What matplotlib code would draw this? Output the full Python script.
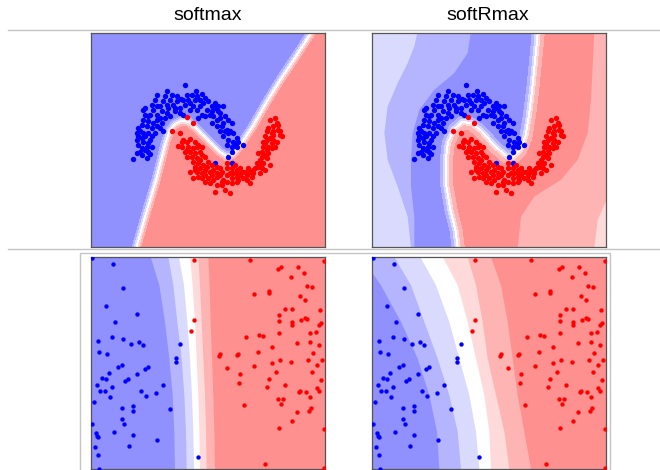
import numpy as np
import matplotlib.pyplot as plt
from matplotlib.path import Path
from matplotlib.lines import Line2D
from matplotlib.patches import Rectangle

plt.rcParams['font.family'] = ['Liberation Sans', 'DejaVu Sans']

# all coordinates (x to the right, y downwards)

# --- two moons (top row, same points in both panels)
moon_blue_x = [315,260,230,348,365,302,325,290,280,270, 250,240,215,195,210,220,245,260,240,255,
               230,270,300,315,330,340,350,360,370,385, 395,405,415,430,380,365,355,375,390,400,
               410,420,395,410,430,440,455,450,420,430, 445,460,440,455,465,470,490,445,455,405,
               188,195,205,185,200,180,215,230,240,250, 170,175,185,195,210,190,205,215,175,185,
               195,205,180,210,160,200,170,225,205,300, 285,310,
               225,255,275,290,335,320,375,345,310,285, 265,230,205,220,190,175,190,200,185,170,
               230,360,395,420,435,445,425,460,470,445, 435,455,475,405,415,350,330,260,245,215]
moon_blue_y = [257,273,287,275,283,297,300,305,315,300, 305,320,315,325,345,330,335,340,355,355,
               360,350,325,315,310,320,330,300,310,305, 320,325,320,318,330,345,355,350,345,350,
               360,355,370,380,370,390,370,395,395,410, 420,425,435,440,435,440,435,470,490,488,
               330,345,350,375,380,395,385,380,385,395, 400,410,415,410,420,425,430,440,435,445,
               450,455,455,462,477,475,460,400,400,340, 335,345,
               300,290,285,290,285,285,295,300,300,325, 325,345,365,370,360,385,400,440,465,420,
               320,320,335,340,350,360,380,400,415,400, 395,455,425,310,335,290,330,315,370,410]
moon_red_x = [320,340,275,300,310,320,330,345,355,365, 295,305,325,330,345,320,335,350,360,340,
              355,370,345,360,380,350,330,365,375,390, 400,410,420,385,400,410,430,440,455,470,
              480,475,490,500,515,510,525,530,540,545, 535,545,550,555,560,555,570,575,560,565,
              580,585,590,570,595,600,605,590,585,575, 565,560,550,570,555,540,520,510,495,480,
              470,460,450,440,425,405,435,450,440,465, 420,390,375,365,340,
              305,320,340,360,350,375,365,385,395,375, 410,425,440,455,470,485,500,520,535,545,
              560,575,580,595,580,565,555,540,505,455, 470,425,410,395,315,345,355,580,600,550]
moon_red_y = [352,370,395,400,420,425,418,425,435,440, 437,440,440,455,460,470,470,475,480,485,
              490,495,500,505,500,515,517,520,525,515, 510,520,525,535,540,530,540,545,535,530,
              525,540,535,540,530,515,505,490,480,470, 460,455,440,430,420,410,415,400,395,385,
              380,355,370,360,390,405,410,425,440,445, 460,475,490,495,510,520,520,550,515,505,
              510,520,520,525,555,575,570,580,490,495, 505,550,545,535,535,
              425,450,445,455,440,470,465,485,495,510, 500,515,505,505,520,515,525,510,500,505,
              450,430,420,375,395,440,465,490,505,550, 545,545,555,525,455,510,530,405,395,425]

# --- two blobs (bottom row, same points in both panels)
blob_blue_x = [37,98,128,77,171,104,97,129,55,153, 177,190,300,57,80,289,287,125,115,205,
               195,87,171,67,77,143,136,51,95,250, 59,75,183,228,89,197,42,125,160,159,
               270,127,133,37,103,49,52,160,54,232, 44,147,55,355,57]
blob_blue_y = [38,56,129,183,206,231,276,280,288,295, 290,298,297,320,327,337,349,361,366,365,
               372,385,388,399,402,401,408,421,426,421, 437,439,437,443,456,452,470,488,484,498,
               491,521,537,538,561,564,572,570,576,584, 606,604,631,636,672]
blob_red_x = [342,509,733,604,653,593,632,672,680,697, 568,566,521,660,676,614,635,719,597,343,
              596,636,636,662,676,680,722,716,332,537, 549,499,596,690,709,650,689,716,576,420,
              416,474,472,535,698,601,632,683,726,576, 521,712,442,587,697,480,566,478,724,614,
              560,710,660,656,717,679,689,593,609,603, 491,692,688,651,637,598,733,556,731]
blob_red_y = [44,43,46,66,66,72,96,82,122,125, 136,142,146,151,163,190,190,194,210,225,
              228,230,238,225,219,222,233,240,258,268, 272,274,264,262,261,292,291,299,305,327,
              331,325,328,319,323,343,350,344,344,354, 362,361,370,380,381,388,402,414,405,419,
              425,428,437,442,438,442,455,463,461,477, 481,490,497,501,528,548,552,656,670]

# --- decision boundaries (p = 0.5), drawn bottom -> top
softmax_moon_edge_x = [170,200,230,258,270,285,305,325,345,380,415,440,460,480,520,560,600,650,695,700]
softmax_moon_edge_y = [745,640,540,430,395,375,365,368,385,420,455,472,465,440,380,310,245,170,100,90]
softrmax_moon_edge_x = [292,285,270,258,255,262,280,305,330,360,400,435,460,480,495,505,515,522,528,532]
softrmax_moon_edge_y = [745,690,630,560,490,430,390,368,372,395,440,470,472,450,410,350,270,200,140,95]

# softRmax, moons: outer level lines (bottom -> top)
softrmax_moon_levels = [
    ([150,140,110,80,70,80,110,140,160,170], [745,650,560,480,400,320,250,190,140,95]),
    ([160,160,150,150,155,175,220,280,320,330], [745,650,560,480,400,330,270,220,160,95]),
    ([470,480,520,600,650,680,690,695,700], [745,650,590,540,480,400,300,200,95]),
    ([700,710,737,800,800], [745,660,600,560,95]),
]

# bottom row: level lines as x at fixed heights
blob_level_y = [700, 672, 560, 450, 340, 230, 120, 35, 0]
softmax_blob_levels = [
    [285, 285, 283, 278, 268, 255, 238, 212, 205],
    [320, 320, 318, 313, 305, 292, 280, 265, 260],
    [342, 342, 340, 336, 330, 322, 312, 297, 292],
    [360, 360, 358, 355, 350, 345, 338, 330, 328],
    [380, 380, 378, 375, 370, 365, 360, 355, 353],
    [405, 405, 403, 400, 396, 392, 389, 385, 384],
]
softrmax_blob_levels = [
    [235, 235, 228, 205, 170, 120, 60, 0, -20],
    [300, 300, 290, 265, 230, 190, 150, 100, 85],
    [355, 355, 345, 325, 295, 265, 225, 178, 165],
    [390, 390, 385, 370, 345, 320, 290, 245, 235],
    [445, 445, 430, 405, 380, 365, 345, 320, 312],
    [510, 510, 490, 470, 455, 440, 420, 390, 380],
]

band_colors = ['#9090ff', '#b4b4ff', '#dadaff', '#ffffff', '#ffdada', '#ffb4b4', '#ff9090']
FAR = 5000


def red_side(cx, cy):
    return np.r_[cx, FAR, FAR], np.r_[cy, cy[-1], cy[0]]


def signed_distance(cx, cy, gx, gy):
    cx = np.asarray(cx, float)
    cy = np.asarray(cy, float)
    pts = np.c_[gx.ravel(), gy.ravel()]
    d = np.full(len(pts), np.inf)
    for x0, y0, x1, y1 in zip(cx[:-1], cy[:-1], cx[1:], cy[1:]):
        vx, vy = x1 - x0, y1 - y0
        t = np.clip(((pts[:, 0] - x0) * vx + (pts[:, 1] - y0) * vy) / (vx * vx + vy * vy), 0, 1)
        d = np.minimum(d, np.hypot(pts[:, 0] - x0 - t * vx, pts[:, 1] - y0 - t * vy))
    px, py = red_side(cx, cy)
    inside = Path(np.c_[px, py]).contains_points(pts)
    return np.where(inside, d, -d).reshape(gx.shape)


def style(ax, xlim, ylim):
    ax.set_xlim(*xlim)
    ax.set_ylim(*ylim)
    ax.set_xticks([])
    ax.set_yticks([])
    for s in ax.spines.values():
        s.set_color('#555555')
        s.set_linewidth(0.9)


fig = plt.figure(figsize=(6.6, 4.7), dpi=100)

# table rules
fig.add_artist(Line2D([8 / 660, 1], [1 - 30 / 470] * 2, color='#c4c4c4', lw=1))
fig.add_artist(Line2D([8 / 660, 1], [1 - 249 / 470] * 2, color='#c4c4c4', lw=1))
fig.add_artist(Rectangle((80 / 660, -0.01), 530 / 660, 1 - 253 / 470 + 0.01,
                         fill=False, ec='#c4c4c4', lw=1))

fig.text(208 / 660, 1 - 15 / 470, 'softmax', ha='center', va='center', fontsize=14)
fig.text(488 / 660, 1 - 15 / 470, 'softRmax', ha='center', va='center', fontsize=14)

ax_tl = fig.add_axes([91 / 660, 1 - 247 / 470, 234 / 660, 214 / 470])
ax_tr = fig.add_axes([372 / 660, 1 - 247 / 470, 234 / 660, 214 / 470])
ax_bl = fig.add_axes([91 / 660, 1 - 469 / 470, 234 / 660, 212 / 470])
ax_br = fig.add_axes([372 / 660, 1 - 469 / 470, 234 / 660, 212 / 470])

gx, gy = np.meshgrid(np.linspace(20, 750, 400), np.linspace(80, 760, 400))

# top-left: softmax on moons
d = signed_distance(softmax_moon_edge_x, softmax_moon_edge_y, gx, gy)
ax_tl.contourf(gx, gy, d, levels=[-1e4, -14, -8, -3, 3, 8, 14, 1e4], colors=band_colors)

# top-right: softRmax on moons
ax_tr.fill(*red_side([0, 0], [760, 80]), color=band_colors[2], lw=0)
for (lx, ly), c in zip(softrmax_moon_levels, [band_colors[1], band_colors[0], band_colors[5], band_colors[4]]):
    if c == band_colors[5]:
        ax_tr.fill(*red_side(softrmax_moon_edge_x, softrmax_moon_edge_y), color=band_colors[6], lw=0)
    ax_tr.fill(*red_side(lx, ly), color=c, lw=0)
d = signed_distance(softrmax_moon_edge_x, softrmax_moon_edge_y, gx, gy)
ax_tr.contourf(gx, gy, d, levels=[-18, -9, -3, 3, 9, 18], colors=band_colors[1:6])

for ax in (ax_tl, ax_tr):
    ax.scatter(moon_blue_x, moon_blue_y, s=15, c='#0000ff', lw=0, zorder=3)
    ax.scatter(moon_red_x, moon_red_y, s=15, c='#ff0000', lw=0, zorder=3)
    style(ax, (33, 735), (741, 100))

# bottom row
for ax, levels in ((ax_bl, softmax_blob_levels), (ax_br, softrmax_blob_levels)):
    ax.fill(*red_side([-FAR, -FAR], [760, -20]), color=band_colors[0], lw=0)
    for lx, c in zip(levels, band_colors[1:]):
        ax.fill(*red_side(lx, blob_level_y), color=c, lw=0)
    ax.scatter(blob_blue_x, blob_blue_y, s=10, c='#0000ff', lw=0, zorder=3)
    ax.scatter(blob_red_x, blob_red_y, s=10, c='#ff0000', lw=0, zorder=3)
    style(ax, (33, 735), (672, 35))

fig.savefig('out.png', dpi=100)
